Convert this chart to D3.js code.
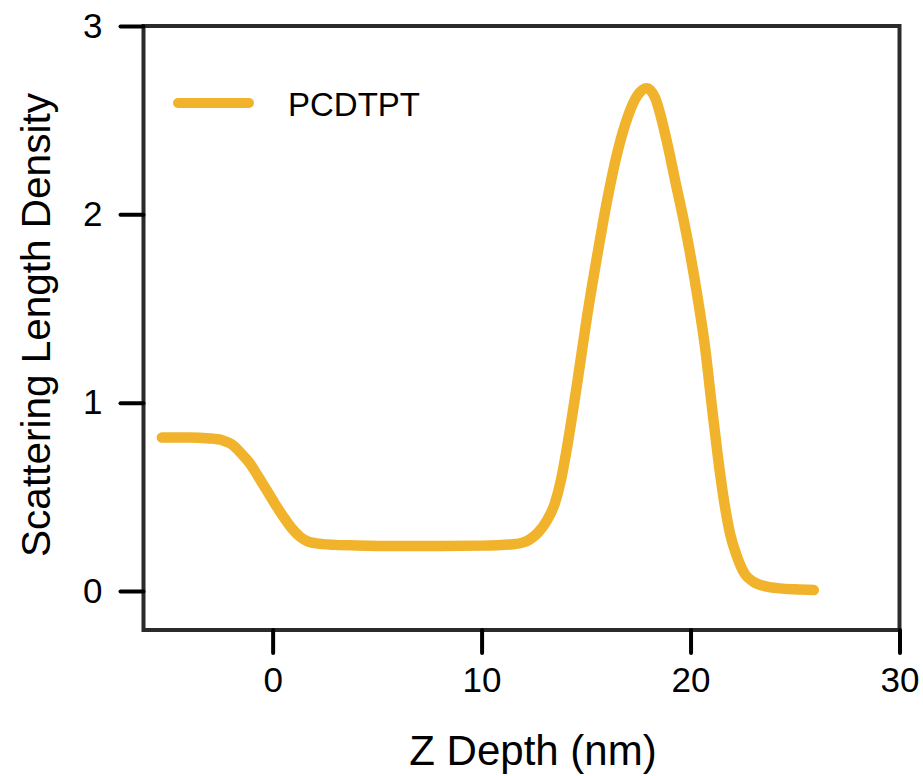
<!DOCTYPE html>
<html>
<head>
<meta charset="utf-8">
<script src="https://cdn.jsdelivr.net/npm/d3@7"></script>
<style>
  body { margin: 0; background: #fff; }
  text { font-family: "Liberation Sans", Arial, Helvetica, sans-serif; }
</style>
</head>
<body>
<div class="chart"></div>
<script>
// SLD profile
const depth = [-5.3, -4.0, -3.0, -2.4, -1.9, -1.5, -1.09, -0.7, -0.29, 0.1, 0.51, 0.9, 1.31, 1.7, 2.1,
  3, 4, 6, 8, 10, 11.5, 12.0, 12.32, 12.7, 13.1, 13.51, 13.8, 14.07, 14.57, 15.05, 15.5, 16.0,
  16.5, 17.0, 17.45, 17.9, 18.3, 18.86, 19.3, 19.65, 19.95, 20.35, 20.7, 21.0, 21.3, 21.6, 21.9,
  22.2, 22.6, 23.0, 23.6, 24.3, 25.0, 25.9];
const sld = [0.815, 0.815, 0.81, 0.80, 0.775, 0.73, 0.678, 0.61, 0.536, 0.465, 0.395, 0.335, 0.288, 0.262, 0.253,
  0.245, 0.242, 0.239, 0.239, 0.241, 0.248, 0.258, 0.275, 0.31, 0.37, 0.467, 0.59, 0.75, 1.10, 1.46, 1.76, 2.07,
  2.33, 2.52, 2.63, 2.67, 2.62, 2.39, 2.16, 1.98, 1.81, 1.55, 1.29, 1.0, 0.72, 0.48, 0.30,
  0.19, 0.09, 0.05, 0.025, 0.014, 0.009, 0.005];
const xTicks = [0, 10, 20, 30];
const yTicks = [0, 1, 2, 3];
const seriesName = "PCDTPT";

const width = 923, height = 776;
const plotLeft = 143.5, plotRight = 899.5, plotTop = 26, plotBottom = 630;

const x = d3.scaleLinear().domain([-6.18, 30]).range([plotLeft, plotRight]);
const y = d3.scaleLinear().domain([-0.207, 3]).range([plotBottom, plotTop]);

const svg = d3.select(".chart").append("svg")
  .attr("width", width).attr("height", height);

// frame
svg.append("rect")
  .attr("x", plotLeft).attr("y", plotTop)
  .attr("width", plotRight - plotLeft).attr("height", plotBottom - plotTop)
  .attr("fill", "none").attr("stroke", "#2b2b2b").attr("stroke-width", 4);

// axes
const xAxis = svg.append("g")
  .attr("transform", `translate(0,${plotBottom})`)
  .call(d3.axisBottom(x).tickValues(xTicks).tickSize(23).tickPadding(14).tickFormat(d3.format("d")));
const yAxis = svg.append("g")
  .attr("transform", `translate(${plotLeft},0)`)
  .call(d3.axisLeft(y).tickValues(yTicks).tickSize(23).tickPadding(18).tickFormat(d3.format("d")));

[xAxis, yAxis].forEach(g => {
  g.select(".domain").remove();
  g.selectAll(".tick line").attr("stroke", "#000").attr("stroke-width", 4).attr("stroke-linecap", "round");
  g.selectAll(".tick text").attr("fill", "#000").attr("font-size", 35)
    .attr("font-family", "'Liberation Sans', Arial, Helvetica, sans-serif");
});

// curve
const pts = depth.map((d, i) => [d, sld[i]]);
svg.append("path")
  .datum(pts)
  .attr("d", d3.line().x(d => x(d[0])).y(d => y(d[1])).curve(d3.curveMonotoneX))
  .attr("fill", "none")
  .attr("stroke", "#f1b32b")
  .attr("stroke-width", 10.5)
  .attr("stroke-linecap", "round")
  .attr("stroke-linejoin", "round");

// legend
svg.append("line")
  .attr("x1", 178).attr("x2", 249).attr("y1", 103).attr("y2", 103)
  .attr("stroke", "#f1b32b").attr("stroke-width", 10).attr("stroke-linecap", "round");
svg.append("text")
  .attr("x", 288).attr("y", 115.5)
  .attr("font-size", 33).attr("fill", "#000")
  .text(seriesName);

// axis titles
svg.append("text")
  .attr("x", 533).attr("y", 765)
  .attr("text-anchor", "middle").attr("font-size", 42).attr("fill", "#000")
  .text("Z Depth (nm)");
svg.append("text")
  .attr("transform", "translate(50,325) rotate(-90)")
  .attr("text-anchor", "middle").attr("font-size", 40.5).attr("fill", "#000")
  .text("Scattering Length Density");
</script>
</body>
</html>
